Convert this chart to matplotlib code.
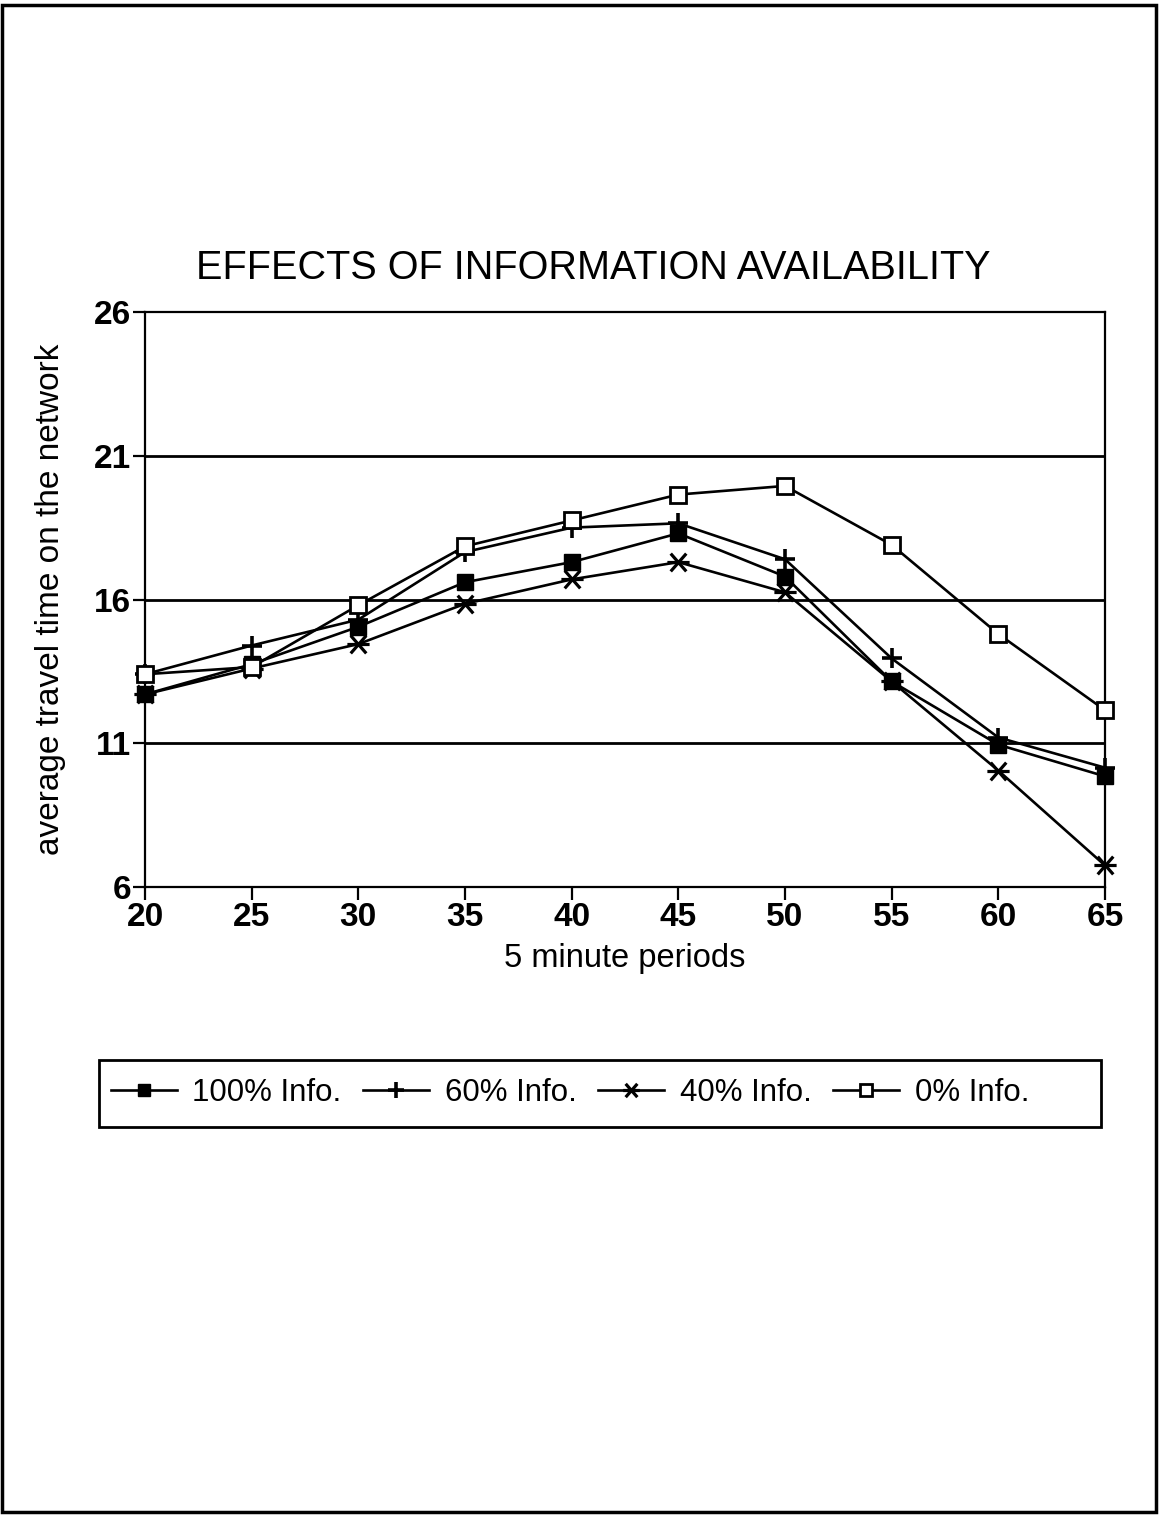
import matplotlib
matplotlib.use("Agg")
import matplotlib.pyplot as plt
from matplotlib.patches import Rectangle
from matplotlib.path import Path

plt.rcParams["font.family"] = ["Liberation Sans", "DejaVu Sans"]

periods = [20, 25, 30, 35, 40, 45, 50, 55, 60, 65]
info_100 = [12.7, 13.75, 15.05, 16.6, 17.3, 18.3, 16.8, 13.15, 10.95, 9.85]
info_60 = [13.4, 14.4, 15.3, 17.65, 18.5, 18.65, 17.4, 13.95, 11.2, 10.15]
info_40 = [12.7, 13.6, 14.45, 15.85, 16.7, 17.3, 16.25, 13.15, 10.05, 6.75]
info_0 = [13.4, 13.65, 15.8, 17.85, 18.75, 19.65, 19.95, 17.9, 14.8, 12.15]

y_ticks = [6, 11, 16, 21, 26]
title = "EFFECTS OF INFORMATION AVAILABILITY"

# asterisk: horizontal bar crossed by an X
star = Path(
    [(-1, 0), (1, 0), (-0.7, -0.8), (0.7, 0.8), (-0.7, 0.8), (0.7, -0.8)],
    [Path.MOVETO, Path.LINETO] * 3,
)

W, H = 1159, 1517
fig = plt.figure(figsize=(W / 100, H / 100), dpi=100)
ax = fig.add_axes([145 / W, 1 - 887 / H, 960 / W, 575 / H])

lw = 1.9
common = dict(color="black", lw=lw, clip_on=False)
ax.plot(periods, info_100, marker="s", ms=12, mfc="black", mec="black",
        label="100% Info.", zorder=4, **common)
ax.plot(periods, info_60, marker="+", ms=15, mew=2.6,
        label="60% Info.", zorder=3, **common)
ax.plot(periods, info_40, marker=star, ms=16, mew=2.3,
        label="40% Info.", zorder=3, **common)
ax.plot(periods, info_0, marker="s", ms=12, mfc="white", mec="black", mew=2.0,
        label="0% Info.", zorder=5, **common)

ax.set_xlim(20, 65)
ax.set_ylim(6, 26)
ax.set_xticks(periods)
ax.set_yticks(y_ticks)
for v in y_ticks[1:-1]:
    ax.axhline(v, color="black", lw=2.0, zorder=1)

for s in ax.spines.values():
    s.set_linewidth(1.6)
ax.tick_params(direction="out", length=9, width=1.6, labelsize=24, pad=1)
ax.tick_params(axis="x", pad=2)
for lab in ax.get_xticklabels() + ax.get_yticklabels():
    lab.set_fontweight("bold")

ax.set_xlabel("5 minute periods", fontsize=23.5, labelpad=7)
ax.set_ylabel("average travel time on the network", fontsize=24, labelpad=20)

fig.text(0.5116, 1 - 268 / H, title, fontsize=28.5, ha="center", va="center")

leg = fig.legend(loc="center left", bbox_to_anchor=(111 / W, 1 - 1093 / H), ncol=4,
                 fontsize=22.5, frameon=False, handlelength=2.1,
                 handletextpad=0.5, columnspacing=0.7, borderpad=0,
                 borderaxespad=0, markerscale=0.75)

# legend box and page border
fig.patches.append(Rectangle((99 / W, 1 - 1127 / H), 1002 / W, 67 / H,
                             transform=fig.transFigure, fill=False, lw=2.0,
                             ec="black"))
fig.patches.append(Rectangle((0.002, 0.003), 0.995, 0.994, transform=fig.transFigure,
                             fill=False, lw=2.5, ec="black"))

fig.savefig("out.png", dpi=100)
